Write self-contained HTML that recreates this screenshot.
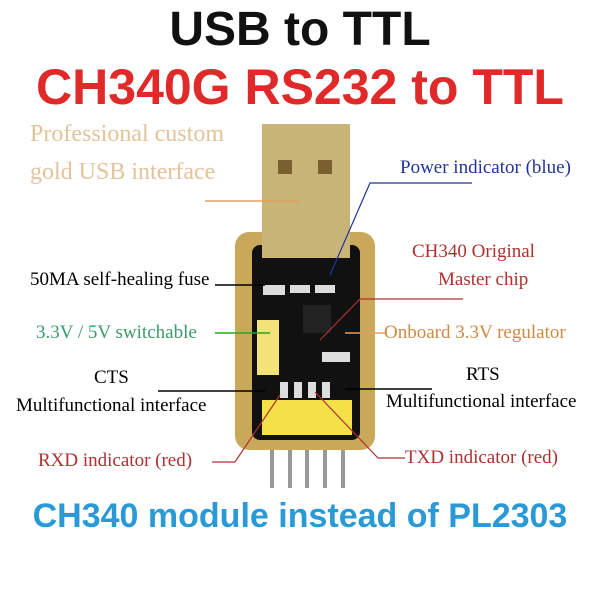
<!DOCTYPE html>
<html><head><style>
body{margin:0;width:600px;height:600px;background:#fff;position:relative;overflow:hidden;font-family:"Liberation Serif",serif}
.t{position:absolute;white-space:nowrap}
.s{font-size:19px}
</style></head><body>
<div class="t" style="left:0;width:600px;text-align:center;top:2px;font:bold 48px 'Liberation Sans',sans-serif;color:#111">USB to TTL</div>
<div class="t" style="left:0;width:600px;text-align:center;top:58px;font:bold 50px 'Liberation Sans',sans-serif;color:#e02a2a">CH340G RS232 to TTL</div>
<div class="t" style="left:0;width:600px;text-align:center;top:497px;font:bold 34px 'Liberation Sans',sans-serif;color:#2a9ad6">CH340 module instead of PL2303</div>

<svg width="600" height="600" style="position:absolute;left:0;top:0">
 <g stroke="#999" stroke-width="4">
  <line x1="272" y1="430" x2="272" y2="488"/><line x1="290" y1="430" x2="290" y2="488"/>
  <line x1="307" y1="430" x2="307" y2="488"/><line x1="325" y1="430" x2="325" y2="488"/>
  <line x1="343" y1="430" x2="343" y2="488"/>
 </g>
 <rect x="235" y="232" width="140" height="218" rx="14" fill="#c9a85a"/>
 <rect x="252" y="245" width="108" height="195" rx="8" fill="#111"/>
 <rect x="262" y="400" width="90" height="35" fill="#f5e04a"/>
 <rect x="257" y="320" width="22" height="55" fill="#f3e27a"/>
 <rect x="303" y="305" width="28" height="28" fill="#222"/>
 <rect x="262" y="124" width="88" height="134" fill="#c8b477"/>
 <rect x="278" y="160" width="14" height="14" fill="#7a6030"/>
 <rect x="318" y="160" width="14" height="14" fill="#7a6030"/>
 <g fill="#ddd"><rect x="263" y="285" width="22" height="10"/><rect x="290" y="285" width="20" height="8"/><rect x="315" y="285" width="20" height="8"/><rect x="322" y="352" width="28" height="10"/><rect x="280" y="382" width="8" height="16"/><rect x="294" y="382" width="8" height="16"/><rect x="308" y="382" width="8" height="16"/><rect x="322" y="382" width="8" height="16"/></g>
 <line x1="205" y1="201" x2="300" y2="201" stroke="#e0a060" stroke-width="1.5"/>
 <polyline points="472,183 370,183 330,275" fill="none" stroke="#223399" stroke-width="1.2"/>
 <line x1="215" y1="285" x2="265" y2="285" stroke="#000" stroke-width="1.5"/>
 <polyline points="463,299 360,299 320,340" fill="none" stroke="#b03030" stroke-width="1.2"/>
 <line x1="215" y1="333" x2="270" y2="333" stroke="#2a2" stroke-width="1.5"/>
 <line x1="345" y1="333" x2="385" y2="333" stroke="#e0a060" stroke-width="1.5"/>
 <line x1="158" y1="391" x2="265" y2="391" stroke="#000" stroke-width="1.5"/>
 <line x1="345" y1="389" x2="432" y2="389" stroke="#000" stroke-width="1.5"/>
 <polyline points="212,462 235,462 280,395" fill="none" stroke="#b03030" stroke-width="1.2"/>
 <polyline points="405,458 378,458 315,392" fill="none" stroke="#b03030" stroke-width="1.2"/>
</svg>

<div class="t" style="left:30px;top:121px;font-size:24px;color:#e2c39a">Professional custom</div>
<div class="t" style="left:30px;top:159px;font-size:24px;color:#e2c39a">gold USB interface</div>
<div class="t s" style="left:400px;top:157px;color:#223399">Power indicator (blue)</div>
<div class="t s" style="left:412px;top:241px;color:#b03030">CH340 Original</div>
<div class="t s" style="left:438px;top:269px;color:#b03030">Master chip</div>
<div class="t s" style="left:30px;top:269px;color:#000">50MA self-healing fuse</div>
<div class="t s" style="left:36px;top:322px;color:#3a9a6a">3.3V / 5V switchable</div>
<div class="t s" style="left:384px;top:322px;color:#d08a40">Onboard 3.3V regulator</div>
<div class="t s" style="left:94px;top:367px;color:#000">CTS</div>
<div class="t s" style="left:16px;top:395px;color:#000">Multifunctional interface</div>
<div class="t s" style="left:466px;top:364px;color:#000">RTS</div>
<div class="t s" style="left:386px;top:391px;color:#000">Multifunctional interface</div>
<div class="t s" style="left:38px;top:450px;color:#b03030">RXD indicator (red)</div>
<div class="t s" style="left:405px;top:447px;color:#b03030">TXD indicator (red)</div>
</body></html>
